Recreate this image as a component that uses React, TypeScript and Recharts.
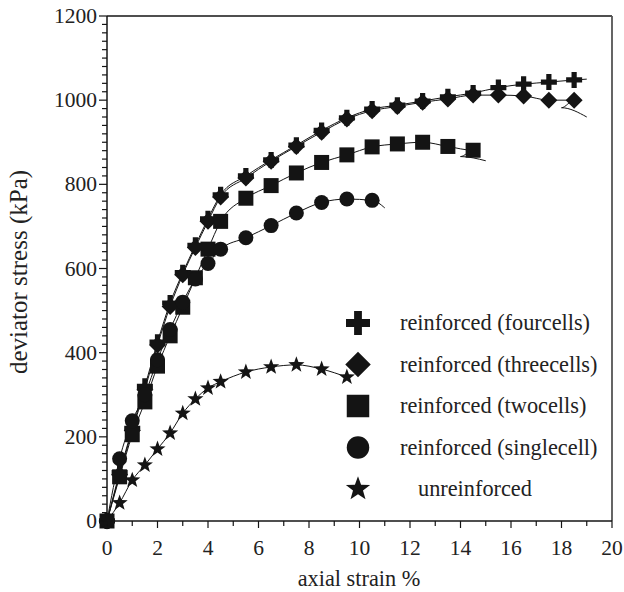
import { ComposedChart, Line, Scatter, XAxis, YAxis, ReferenceLine } from 'recharts';

// strain steps used by the tests (%)
const strainSteps = [0, 0.5, 1, 1.5, 2, 2.5, 3, 3.5, 4, 4.5, 5.5, 6.5, 7.5, 8.5, 9.5, 10.5, 11.5, 12.5, 13.5, 14.5, 15.5, 16.5, 17.5, 18.5];

// deviator stress (kPa)
const fourCells = [0, 115, 220, 320, 425, 518, 590, 655, 718, 775, 820, 858, 893, 928, 958, 979, 988, 998, 1008, 1017, 1030, 1038, 1043, 1048];
const threeCells = [0, 110, 215, 312, 418, 510, 585, 650, 712, 770, 815, 855, 890, 924, 955, 975, 985, 995, 1003, 1012, 1012, 1010, 1000, 1000];
const twoCells = [0, 105, 205, 283, 368, 440, 508, 578, 646, 712, 767, 797, 827, 852, 870, 889, 896, 900, 890, 881];
const singleCell = [0, 148, 238, 300, 383, 455, 520, 575, 612, 646, 673, 702, 732, 757, 765, 762];
const unreinforced = [0, 43, 97, 133, 171, 209, 256, 290, 316, 331, 354, 366, 371, 361, 342];

// extra points where the fitted curves run on past the last marker
const fourTail = [{ x: 19, y: 1050 }];
const threeTail = [{ x: 18, y: 982 }, { x: 19, y: 960 }];
const twoTail = [{ x: 14, y: 866 }, { x: 15, y: 856 }];
const singleTail = [{ x: 11, y: 744 }];

const xTicks = Array.from({ length: 21 }, (_, i) => i);
const yTicks = Array.from({ length: 61 }, (_, i) => i * 20);

const FONT = '"Liberation Serif", "Times New Roman", serif';
const INK = '#141414';

const toPoints = (vals: number[]) => vals.map((y, i) => ({ x: strainSteps[i], y }));

const series = [
  { name: 'reinforced (fourcells)', kind: 'plus', pts: toPoints(fourCells), tail: fourTail },
  { name: 'reinforced (threecells)', kind: 'diamond', pts: toPoints(threeCells), tail: threeTail },
  { name: 'reinforced (twocells)', kind: 'square', pts: toPoints(twoCells), tail: twoTail },
  { name: 'reinforced (singlecell)', kind: 'circle', pts: toPoints(singleCell), tail: singleTail },
  { name: 'unreinforced', kind: 'star', pts: toPoints(unreinforced), tail: [] as { x: number; y: number }[] },
];

function Mark({ kind, cx, cy, s = 1 }: { kind: string; cx: number; cy: number; s?: number }) {
  if (cx == null || cy == null) return null;
  if (kind === 'plus') {
    const h = 8 * s, t = 2.6 * s;
    return (
      <path
        d={`M${cx - t},${cy - h}H${cx + t}V${cy - t}H${cx + h}V${cy + t}H${cx + t}V${cy + h}H${cx - t}V${cy + t}H${cx - h}V${cy - t}H${cx - t}Z`}
        fill={INK}
      />
    );
  }
  if (kind === 'diamond') {
    const h = 8.5 * s;
    return <path d={`M${cx},${cy - h}L${cx + h},${cy}L${cx},${cy + h}L${cx - h},${cy}Z`} fill={INK} />;
  }
  if (kind === 'square') {
    const a = 7.5 * s;
    return <rect x={cx - a} y={cy - a} width={2 * a} height={2 * a} fill={INK} />;
  }
  if (kind === 'circle') {
    return <circle cx={cx} cy={cy} r={7.5 * s} fill={INK} />;
  }
  // five-pointed star
  const R = 8.5 * s, r = 3.5 * s;
  let d = '';
  for (let i = 0; i < 10; i++) {
    const rad = i % 2 === 0 ? R : r;
    const a = -Math.PI / 2 + (i * Math.PI) / 5;
    d += `${i === 0 ? 'M' : 'L'}${cx + rad * Math.cos(a)},${cy + rad * Math.sin(a)}`;
  }
  return <path d={d + 'Z'} fill={INK} />;
}

const XTick = ({ x, y, payload }: any) => {
  const major = payload.value % 2 === 0;
  return (
    <g>
      <line x1={x} x2={x} y1={y} y2={y + (major ? 7 : 5)} stroke={INK} strokeWidth={1.2} />
      {major && (
        <text x={x} y={y + 34} textAnchor="middle" fontFamily={FONT} fontSize={21.5} fill="#222">
          {payload.value}
        </text>
      )}
    </g>
  );
};

const YTick = ({ x, y, payload }: any) => {
  const major = payload.value % 200 === 0;
  return (
    <g>
      <line x1={x} x2={x - (major ? 8 : 5)} y1={y} y2={y} stroke={INK} strokeWidth={1.2} />
      {major && (
        <text x={x - 10} y={y + 7} textAnchor="end" fontFamily={FONT} fontSize={21.5} fill="#222">
          {payload.value}
        </text>
      )}
    </g>
  );
};

export default function App() {
  return (
    <div style={{ position: 'relative', width: 624, height: 592 }}>
      {/* drop the default body margin so the chart fills the whole window */}
      <style>{'body{margin:0}'}</style>
      <ComposedChart width={624} height={592} margin={{ top: 16, right: 12, bottom: 11, left: 0 }}>
        <XAxis
          type="number"
          dataKey="x"
          domain={[0, 20]}
          ticks={xTicks}
          interval={0}
          tickSize={0}
          tickMargin={0}
          tick={<XTick />}
          axisLine={{ stroke: INK, strokeWidth: 1.5 }}
          height={60}
        />
        <YAxis
          type="number"
          domain={[0, 1200]}
          ticks={yTicks}
          interval={0}
          tickSize={0}
          tickMargin={0}
          tick={<YTick />}
          axisLine={{ stroke: INK, strokeWidth: 1.5 }}
          width={107}
        />
        <ReferenceLine y={1200} stroke={INK} strokeWidth={1.5} />
        <ReferenceLine x={20} stroke="#555" strokeWidth={1.8} />
        {series.map((s) => (
          <Line
            key={s.name + '-curve'}
            data={[...s.pts, ...s.tail]}
            dataKey="y"
            type="monotone"
            stroke={INK}
            strokeWidth={1}
            dot={false}
            activeDot={false}
            isAnimationActive={false}
          />
        ))}
        {series.map((s) => (
          <Scatter
            key={s.name}
            data={s.pts}
            dataKey="y"
            isAnimationActive={false}
            shape={(p: any) => <Mark kind={s.kind} cx={p.cx} cy={p.cy} />}
          />
        ))}
      </ComposedChart>
      <svg
        width={624}
        height={592}
        style={{ position: 'absolute', left: 0, top: 0, pointerEvents: 'none' }}
      >
        <text x={359} y={586} textAnchor="middle" fontFamily={FONT} fontSize={22.3} fill="#222">
          axial strain %
        </text>
        <text
          x={27}
          y={272}
          textAnchor="middle"
          transform="rotate(-90 27 272)"
          fontFamily={FONT}
          fontSize={25}
          fill="#222"
        >
          deviator stress (kPa)
        </text>
        {series.map((s, i) => {
          const cy = 323 + i * 41.5;
          return (
            <g key={s.name}>
              <Mark kind={s.kind} cx={358} cy={cy} s={1.5} />
              <text
                x={s.kind === 'star' ? 418 : 400}
                y={cy + 7}
                fontFamily={FONT}
                fontSize={22.3}
                fill="#222"
              >
                {s.name}
              </text>
            </g>
          );
        })}
      </svg>
    </div>
  );
}
